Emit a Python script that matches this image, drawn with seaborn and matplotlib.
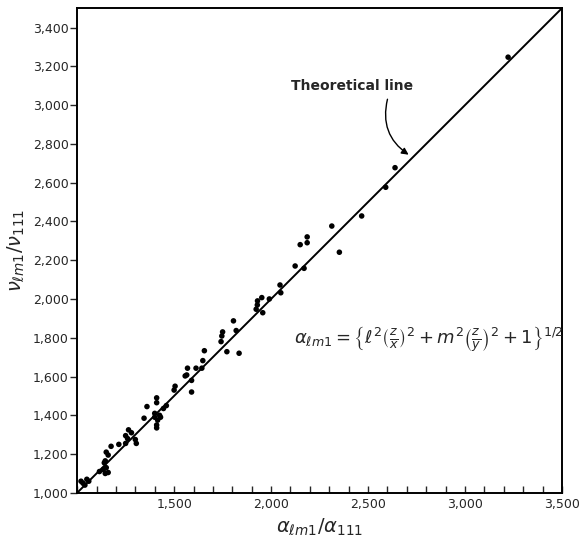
import numpy as np
import pandas as pd
import seaborn as sns
import matplotlib.pyplot as plt
from matplotlib.ticker import MultipleLocator, FixedLocator

alpha_ratio = [1.02, 1.04, 1.05, 1.03, 1.06, 1.115, 1.135, 1.145, 1.15, 1.14,
               1.145, 1.16, 1.15, 1.16, 1.175, 1.215, 1.25, 1.26, 1.25, 1.265,
               1.28, 1.30, 1.305, 1.345, 1.36, 1.40, 1.40, 1.41, 1.41, 1.415,
               1.41, 1.41, 1.425, 1.43, 1.445, 1.46, 1.50, 1.505, 1.59, 1.59,
               1.557, 1.565, 1.569, 1.613, 1.643, 1.648, 1.656, 1.742, 1.746, 1.75,
               1.772, 1.806, 1.82, 1.835, 1.923, 1.929, 1.93, 1.952, 1.957, 1.991,
               2.046, 2.05, 2.124, 2.17, 2.15, 2.186, 2.186, 2.313, 2.352, 2.467,
               2.591, 2.639, 3.222]
nu_ratio = [1.06, 1.04, 1.07, 1.05, 1.06, 1.11, 1.12, 1.10, 1.13, 1.155,
            1.165, 1.105, 1.21, 1.195, 1.24, 1.25, 1.255, 1.28, 1.295, 1.325,
            1.31, 1.275, 1.255, 1.385, 1.445, 1.41, 1.39, 1.465, 1.49, 1.375,
            1.35, 1.335, 1.40, 1.39, 1.435, 1.45, 1.53, 1.55, 1.52, 1.58,
            1.603, 1.608, 1.643, 1.643, 1.643, 1.682, 1.733, 1.78, 1.809, 1.83,
            1.728, 1.887, 1.837, 1.72, 1.947, 1.969, 1.99, 2.007, 1.929, 2.0,
            2.072, 2.032, 2.17, 2.158, 2.28, 2.32, 2.29, 2.376, 2.241, 2.428,
            2.576, 2.677, 3.247]

theory_x = [1.0, 3.5]
theory_y = [1.0, 3.5]

x_major = [1.5, 2.0, 2.5, 3.0, 3.5]
x_labels = ["1,500", "2,000", "2,500", "3,000", "3,500"]
y_major = [1.0, 1.2, 1.4, 1.6, 1.8, 2.0, 2.2, 2.4, 2.6, 2.8, 3.0, 3.2, 3.4]
y_labels = ["1,000", "1,200", "1,400", "1,600", "1,800", "2,000", "2,200",
            "2,400", "2,600", "2,800", "3,000", "3,200", "3,400"]

sns.set_style("white")
plt.rcParams['font.family'] = ['DejaVu Sans']
plt.rcParams['mathtext.fontset'] = 'dejavusans'

fig = plt.figure(figsize=(5.8, 5.41), dpi=100)
ax = fig.add_axes([0.133, 0.089, 0.836, 0.896])

df = pd.DataFrame({"x": alpha_ratio, "y": nu_ratio})
line_df = pd.DataFrame({"x": theory_x, "y": theory_y})

sns.lineplot(data=line_df, x="x", y="y", color="black", linewidth=1.4, ax=ax)
sns.scatterplot(data=df, x="x", y="y", color="black", s=16, edgecolor="none", ax=ax, zorder=3)

ax.set_xlim(1.0, 3.5)
ax.set_ylim(1.0, 3.5)

ax.xaxis.set_major_locator(FixedLocator(x_major))
ax.set_xticklabels(x_labels, fontsize=9)
ax.xaxis.set_minor_locator(MultipleLocator(0.1))
ax.tick_params(axis="x", which="both", direction="in", length=5, width=1, bottom=True)

ax.yaxis.set_major_locator(FixedLocator(y_major))
ax.set_yticklabels(y_labels, fontsize=9)
ax.tick_params(axis="y", which="major", direction="out", length=5, width=1, left=True, pad=1)

for sp in ax.spines.values():
    sp.set_color("black")
    sp.set_linewidth(1.4)

ax.set_xlabel(r"$\alpha_{\ell m1}/\alpha_{111}$", fontsize=14, labelpad=4)
ax.set_ylabel(r"$\nu_{\ell m1}/\nu_{111}$", fontsize=14, labelpad=4)

# label and curly pointer to the line
ax.text(2.42, 3.10, "Theoretical line", fontsize=10, fontweight="bold",
        ha="center", va="center")
ax.annotate("", xy=(2.715, 2.74), xytext=(2.60, 3.03),
            arrowprops=dict(arrowstyle="-|>", color="black", lw=1,
                            connectionstyle="arc3,rad=0.35",
                            shrinkA=0, shrinkB=1))

ax.text(2.12, 1.79,
        r"$\alpha_{\ell m1}=\left\{\ell^2\left(\frac{z}{x}\right)^2+m^2\left(\frac{z}{y}\right)^2+1\right\}^{1/2}$",
        fontsize=13, ha="left", va="center")

fig.savefig("out.png", dpi=100)
